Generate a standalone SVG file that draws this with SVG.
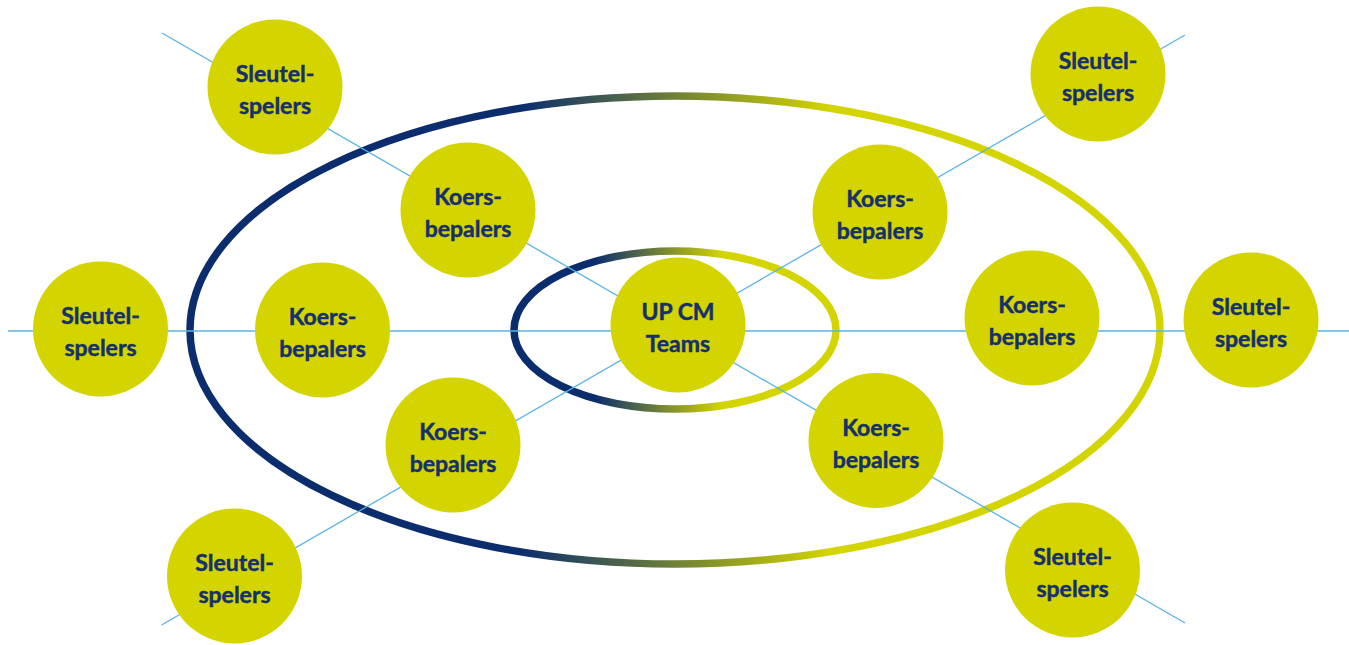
<svg xmlns="http://www.w3.org/2000/svg" width="1349" height="645" viewBox="0 0 1349 645">
<style>
.node circle{fill:#d3d400}
.node text{font-family:Lato,"Noto Sans","Liberation Sans",sans-serif;font-weight:bold;font-size:23px;fill:#15306c;stroke:#15306c;stroke-width:0.45;text-anchor:middle}
.conn line{stroke:#5ab4e6;stroke-width:1.3}
.ring{fill:none;stroke-width:7.5}
</style>
<defs>
<linearGradient id="gOuter" gradientUnits="userSpaceOnUse" x1="520" y1="0" x2="830" y2="0">
<stop offset="0" stop-color="#0b2d6e"/>
<stop offset="1" stop-color="#d3d400"/>
</linearGradient>
<linearGradient id="gInner" gradientUnits="userSpaceOnUse" x1="595" y1="0" x2="722" y2="0">
<stop offset="0" stop-color="#0b2d6e"/>
<stop offset="1" stop-color="#d3d400"/>
</linearGradient>
</defs>
<rect width="1349" height="645" fill="#ffffff"/>
<g id="rings">
<ellipse class="ring" cx="675" cy="330" rx="485" ry="234" stroke="url(#gOuter)"/>
<ellipse class="ring" cx="675" cy="330" rx="161" ry="79" stroke="url(#gInner)"/>
</g>
<g id="connectors" class="conn">
<line x1="8" y1="331" x2="1349" y2="331"/>
<line x1="162" y1="33" x2="1185" y2="623"/>
<line x1="161.5" y1="625" x2="1185" y2="35"/>
</g>
<g id="n-center" class="node"><circle cx="678" cy="325" r="67.5"/><text x="678" y="320">UP CM</text><text x="678" y="352">Teams</text></g>
<g id="n-koers-tl" class="node"><circle cx="468" cy="210" r="67.5"/><text x="468" y="205">Koers-</text><text x="468" y="237">bepalers</text></g>
<g id="n-koers-l" class="node"><circle cx="322.5" cy="330" r="67.5"/><text x="322.5" y="325">Koers-</text><text x="322.5" y="357">bepalers</text></g>
<g id="n-koers-bl" class="node"><circle cx="453" cy="445" r="67.5"/><text x="453" y="440">Koers-</text><text x="453" y="472">bepalers</text></g>
<g id="n-koers-tr" class="node"><circle cx="880" cy="212" r="67.5"/><text x="880" y="207">Koers-</text><text x="880" y="239">bepalers</text></g>
<g id="n-koers-r" class="node"><circle cx="1032" cy="318" r="67.5"/><text x="1032" y="313">Koers-</text><text x="1032" y="345">bepalers</text></g>
<g id="n-koers-br" class="node"><circle cx="876" cy="440.5" r="67.5"/><text x="876" y="435.5">Koers-</text><text x="876" y="467.5">bepalers</text></g>
<g id="n-sleutel-tl" class="node"><circle cx="275" cy="87" r="67.5"/><text x="275" y="82">Sleutel-</text><text x="275" y="114">spelers</text></g>
<g id="n-sleutel-l" class="node"><circle cx="100.5" cy="329" r="67.5"/><text x="100.5" y="324">Sleutel-</text><text x="100.5" y="356">spelers</text></g>
<g id="n-sleutel-bl" class="node"><circle cx="234.5" cy="576" r="67.5"/><text x="234.5" y="571">Sleutel-</text><text x="234.5" y="603">spelers</text></g>
<g id="n-sleutel-tr" class="node"><circle cx="1098" cy="74" r="67.5"/><text x="1098" y="69">Sleutel-</text><text x="1098" y="101">spelers</text></g>
<g id="n-sleutel-r" class="node"><circle cx="1251" cy="320" r="67.5"/><text x="1251" y="315">Sleutel-</text><text x="1251" y="347">spelers</text></g>
<g id="n-sleutel-br" class="node"><circle cx="1072.5" cy="570" r="67.5"/><text x="1072.5" y="565">Sleutel-</text><text x="1072.5" y="597">spelers</text></g>
</svg>
